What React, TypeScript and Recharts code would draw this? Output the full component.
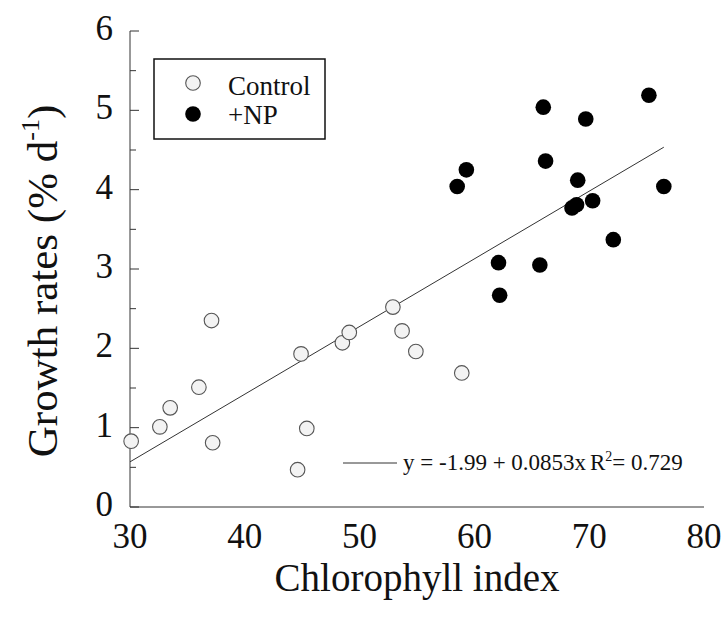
import { Legend, ReferenceLine, Scatter, ScatterChart, XAxis, YAxis } from 'recharts';

const serif = '"Liberation Serif", "Times New Roman", Tinos, "DejaVu Serif", serif';

// values
const controlX = [30.1, 32.6, 33.5, 36.0, 37.1, 37.2, 44.9, 45.4, 44.6, 48.5, 49.1, 52.9, 53.7, 54.9, 58.9];
const controlY = [0.83, 1.01, 1.25, 1.51, 2.35, 0.81, 1.93, 0.99, 0.47, 2.07, 2.2, 2.52, 2.22, 1.96, 1.69];
const npX = [58.5, 59.3, 66.2, 69.0, 68.5, 68.9, 70.3, 76.5, 62.1, 62.2, 65.7, 72.1, 66.0, 69.7, 75.2];
const npY = [4.04, 4.25, 4.36, 4.12, 3.77, 3.81, 3.86, 4.04, 3.08, 2.67, 3.05, 3.37, 5.04, 4.89, 5.19];

const intercept = -1.99;
const slope = 0.0853;
const rSquared = 0.729;
const fitRange = [30, 76.5];

const xTicks = [30, 40, 50, 60, 70, 80];
const yTicks = [0, 0.5, 1, 1.5, 2, 2.5, 3, 3.5, 4, 4.5, 5, 5.5, 6];
const seriesNames = ['Control', '+NP'];

const controlData = controlX.map((x, i) => ({ x, y: controlY[i] }));
const npData = npX.map((x, i) => ({ x, y: npY[i] }));

const OpenDot = (p: any) => (
  <circle cx={p.cx} cy={p.cy} r={7.3} fill="#f3f3f3" stroke="#555" strokeWidth={1.1} />
);
const FilledDot = (p: any) => <circle cx={p.cx} cy={p.cy} r={7.8} fill="#000" />;

const LeftTick = ({ x, y, payload }: any) => {
  const major = Number.isInteger(payload.value);
  return (
    <g>
      <line x1={x} x2={x + (major ? 9 : 6)} y1={y} y2={y} stroke="#333" />
      {major && (
        <text x={x - 17} y={y} dy={9} textAnchor="end" fontSize={35} fill="#111" style={{ fontFamily: serif }}>
          {payload.value}
        </text>
      )}
    </g>
  );
};

const RightTick = ({ x, y, payload }: any) => {
  const major = Number.isInteger(payload.value);
  return <line x1={x - (major ? 9 : 6)} x2={x} y1={y} y2={y} stroke="#777" />;
};

const BottomTick = ({ x, y, payload }: any) => (
  <text x={x} y={y + 41} textAnchor="middle" fontSize={35} fill="#111" style={{ fontFamily: serif }}>
    {payload.value}
  </text>
);

const YTitle = ({ viewBox }: any) => {
  const cx = 42;
  const cy = viewBox.y + viewBox.height / 2 + 12;
  return (
    <text
      x={cx}
      y={cy}
      transform={`rotate(-90 ${cx} ${cy})`}
      textAnchor="middle"
      dy={15}
      fontSize={43}
      fill="#111"
      style={{ fontFamily: serif }}
    >
      Growth rates (% d
      <tspan fontSize={26} dy={-18}>
        -1
      </tspan>
      <tspan dy={18}>)</tspan>
    </text>
  );
};

const XTitle = ({ viewBox }: any) => (
  <text
    x={viewBox.x + viewBox.width / 2}
    y={591}
    textAnchor="middle"
    fontSize={39}
    fill="#111"
    style={{ fontFamily: serif }}
  >
    Chlorophyll index
  </text>
);

const LegendArt = () => (
  <svg width={725} height={617} style={{ fontFamily: serif }}>
    <rect x={154} y={59} width={171} height={80} fill="#fff" stroke="#111" strokeWidth={1.5} />
    <circle cx={193} cy={83} r={7.3} fill="#f3f3f3" stroke="#555" strokeWidth={1.1} />
    <circle cx={193} cy={114} r={7.8} fill="#000" />
    <text x={228} y={95} fontSize={27} fill="#111">
      {seriesNames[0]}
    </text>
    <text x={228} y={124} fontSize={27} fill="#111">
      {seriesNames[1]}
    </text>
    <line x1={343} x2={397} y1={463} y2={463} stroke="#333" />
    <text x={403} y={470} fontSize={23} fill="#111">
      {`y = ${intercept} + ${slope}x`}
    </text>
    <text x={590} y={470} fontSize={23} fill="#111">
      R<tspan fontSize={14} dy={-9}>2</tspan>
      <tspan dy={9}>= {rSquared}</tspan>
    </text>
  </svg>
);

export default function App() {
  return (
    <div
      style={{
        position: 'absolute',
        left: 0,
        top: 0,
        width: 725,
        height: 617,
        background: '#fff',
        fontFamily: serif,
      }}
    >
      <ScatterChart width={725} height={617} margin={{ top: 31, right: 21, left: 0, bottom: 0 }}>
        <XAxis
          dataKey="x"
          type="number"
          domain={[30, 80]}
          ticks={xTicks}
          height={110}
          tickSize={0}
          tickMargin={0}
          tickLine={false}
          tick={BottomTick}
          axisLine={{ stroke: '#333' }}
          label={{ content: XTitle }}
        />
        <XAxis
          xAxisId="top"
          orientation="top"
          type="number"
          domain={[30, 80]}
          height={0}
          tick={false}
          tickLine={false}
          axisLine={{ stroke: '#999', strokeDasharray: '3 1' }}
        />
        <YAxis
          dataKey="y"
          type="number"
          domain={[0, 6]}
          ticks={yTicks}
          interval={0}
          width={130}
          tickSize={0}
          tickMargin={0}
          tickLine={false}
          tick={LeftTick}
          axisLine={{ stroke: '#333' }}
          label={{ content: YTitle }}
        />
        <YAxis
          yAxisId="right"
          orientation="right"
          type="number"
          domain={[0, 6]}
          ticks={yTicks}
          interval={0}
          width={0}
          tickSize={0}
          tickMargin={0}
          tickLine={false}
          tick={RightTick}
          axisLine={{ stroke: '#888' }}
        />
        <ReferenceLine
          segment={[
            { x: fitRange[0], y: intercept + slope * fitRange[0] },
            { x: fitRange[1], y: intercept + slope * fitRange[1] },
          ]}
          stroke="#333"
          strokeWidth={1}
          ifOverflow="visible"
        />
        <Scatter name={seriesNames[0]} data={controlData} shape={OpenDot} isAnimationActive={false} />
        <Scatter name={seriesNames[1]} data={npData} shape={FilledDot} isAnimationActive={false} />
        <Legend
          layout="vertical"
          align="center"
          verticalAlign="middle"
          content={LegendArt}
          wrapperStyle={{ left: 0, top: 0, width: 725, height: 617, pointerEvents: 'none' }}
        />
      </ScatterChart>
    </div>
  );
}
